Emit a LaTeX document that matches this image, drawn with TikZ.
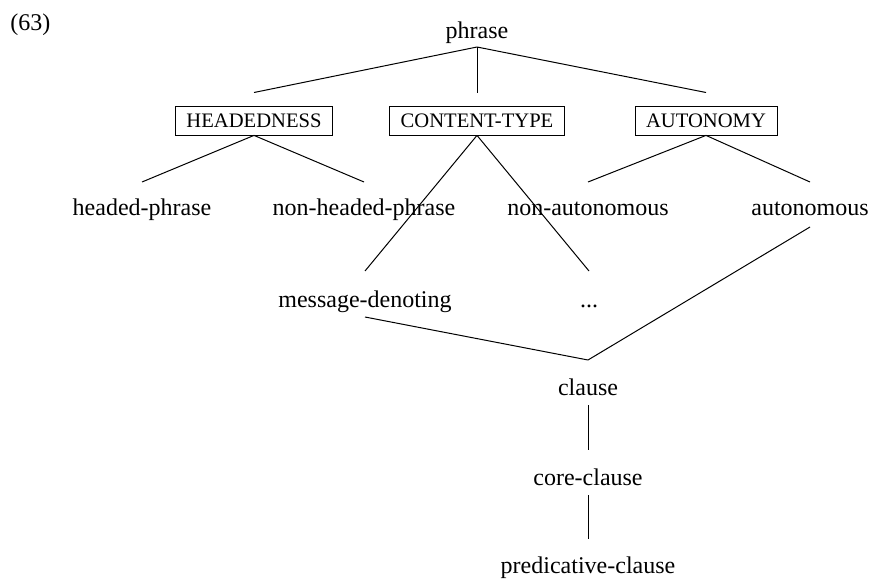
\documentclass[tikz,border=0pt]{standalone}
\usepackage{fontspec}
\setmainfont{Liberation Serif}
\usetikzlibrary{positioning}
\tikzstyle{type}=[inner sep=0pt, text height=8.5pt, text depth=2.5pt,
  font=\fontsize{12}{14}\selectfont]
\tikzstyle{feature}=[rectangle, draw=black, thin, inner xsep=5.5pt,
  inner ysep=0pt, text height=6.8pt, text depth=0pt, minimum height=14.5pt,
  font=\fontsize{10.3}{12}\selectfont]

\begin{document}
\begin{tikzpicture}[x=0.5pt, y=-0.5pt, line width=0.5pt]
    \useasboundingbox (0,0) rectangle (872,578);

    \node[type, anchor=west] (num) at (10,24) {(63)};
    \node[type] (phrase) at (477,32) {phrase};

    % partitions
    \node[feature] (hd) at (254,120.5) {HEADEDNESS};
    \node[feature] (ct) at (477,120.5) {CONTENT-TYPE};
    \node[feature] (au) at (706,120.5) {AUTONOMY};

    \node[type] (hp) at (142,209) {headed-phrase};
    \node[type] (nhp) at (364,209) {non-headed-phrase};
    \node[type] (nau) at (588,209) {non-autonomous};
    \node[type] (aut) at (810,209) {autonomous};

    \node[type] (msg) at (365,301) {message-denoting};
    \node[type] (etc) at (589,301) {...};

    \node[type] (cl) at (588,389) {clause};
    \node[type] (core) at (588,479) {core-clause};
    \node[type] (pred) at (588,567) {predicative-clause};

    \draw ([yshift=-7.5pt]phrase.center) -- ([yshift=14pt]hd.center);
    \draw ([yshift=-7.5pt]phrase.center) -- ([yshift=14pt]ct.center);
    \draw ([yshift=-7.5pt]phrase.center) -- ([yshift=14pt]au.center);

    \draw (hd.south) -- ([yshift=13.5pt]hp.center);
    \draw (hd.south) -- ([yshift=13.5pt]nhp.center);
    \draw (ct.south) -- ([yshift=15pt]msg.center);
    \draw (ct.south) -- ([yshift=15pt]etc.center);
    \draw (au.south) -- ([yshift=13.5pt]nau.center);
    \draw (au.south) -- ([yshift=13.5pt]aut.center);

    \draw ([yshift=-8pt]msg.center) -- ([yshift=14.5pt]cl.center);
    \draw ([yshift=-9pt]aut.center) -- ([yshift=14.5pt]cl.center);
    \draw ([yshift=-8pt]cl.center) -- ([yshift=14.5pt]core.center);
    \draw ([yshift=-8pt]core.center) -- ([yshift=14pt]pred.center);
\end{tikzpicture}
\end{document}
